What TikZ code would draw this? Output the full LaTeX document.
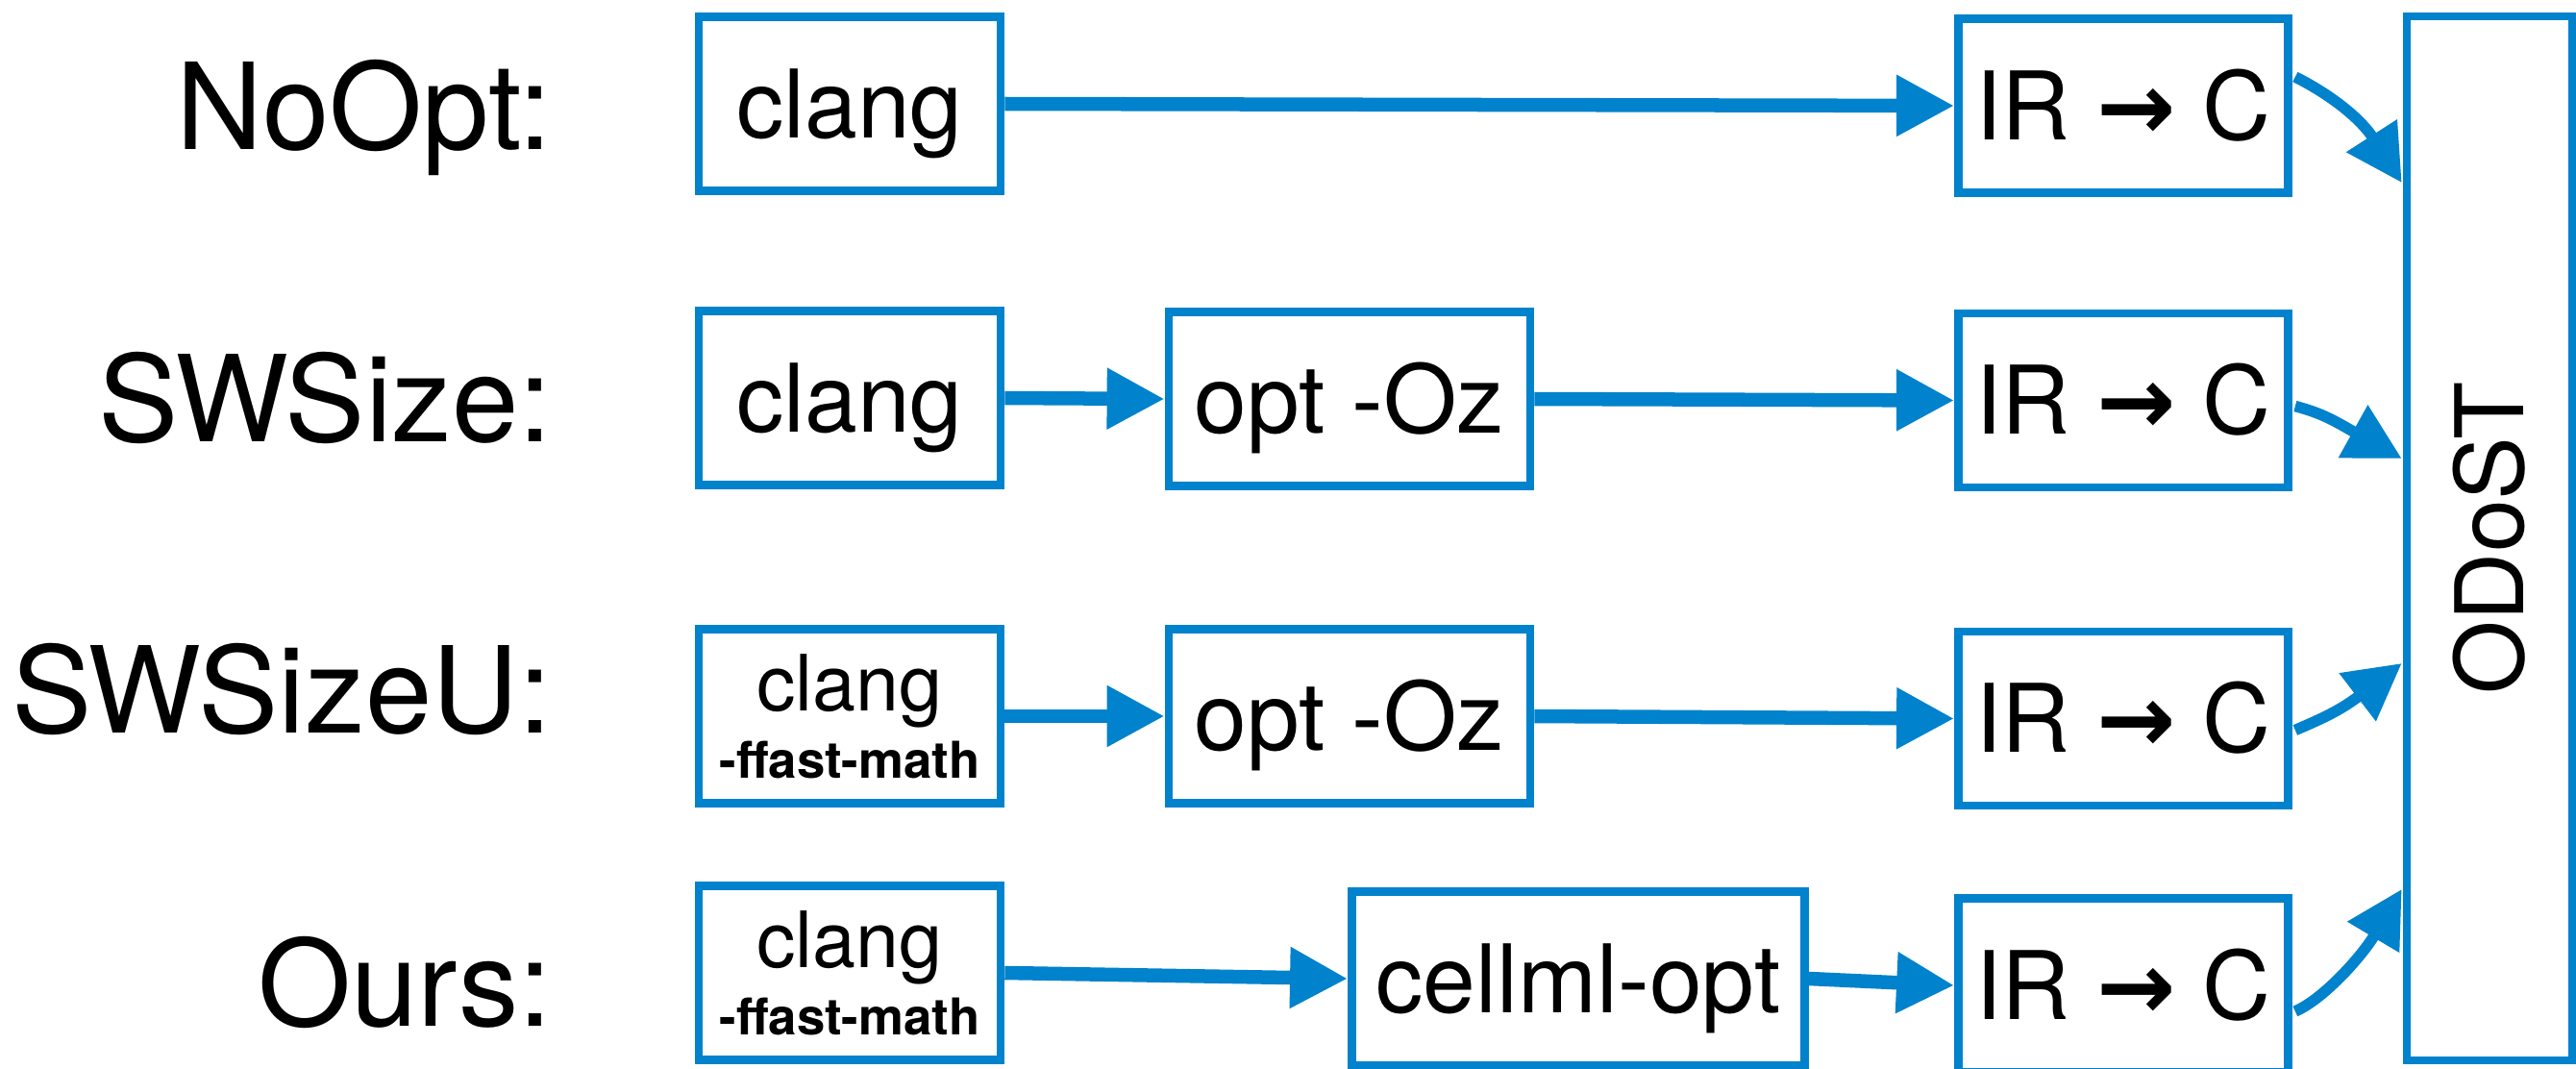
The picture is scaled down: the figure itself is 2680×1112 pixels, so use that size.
\documentclass[tikz,border=0pt]{standalone}
\usepackage{fontspec}
\setmainfont{TeX Gyre Heros}
\newfontfamily\arrowglyph{DejaVu Sans}
\usetikzlibrary{arrows.meta,calc}
\definecolor{flowblue}{HTML}{0082CC}
\newcommand{\irtoc}{IR {\arrowglyph\bfseries →} C}

\begin{document}
\begin{tikzpicture}[x=0.01cm,y=-0.01cm,
  stage/.style={draw=flowblue,line width=0.085cm,inner sep=0pt,minimum height=1.81cm,
    font=\fontsize{28}{30}\selectfont},
  oneline/.style={text height=20pt,text depth=0pt},
  twoline/.style={align=center,font=\fontsize{23}{20}\selectfont},
  rowlabel/.style={anchor=base east,inner sep=0pt,font=\fontsize{35.5}{40}\selectfont},
  flow/.style={draw=flowblue,line width=0.145cm,-{Triangle[length=0.6cm,width=0.6cm]}},
  merge/.style={draw=flowblue,line width=0.115cm,-{Triangle[length=0.58cm,width=0.6cm]}},
]
\useasboundingbox (0,0) rectangle (2680,1112);

% row labels
\node[rowlabel] (lab1) at (575,156) {NoOpt:};
\node[rowlabel] (lab2) at (575,459) {SWSize:};
\node[rowlabel] (lab3) at (575,762) {SWSizeU:};
\node[rowlabel] (lab4) at (575,1067) {Ours:};

% output stage shared by all pipelines
\node[stage,minimum width=1.72cm,minimum height=10.85cm] (od) at (2590,560) {\rotatebox{90}{ODoST}};

% NoOpt
\node[stage,oneline,minimum width=3.14cm] (clang1) at (884,108) {clang};
\node[stage,oneline,minimum width=3.43cm] (ir1) at (2209,110) {\irtoc};

% SWSize
\node[stage,oneline,minimum width=3.14cm] (clang2) at (884,414) {clang};
\node[stage,oneline,minimum width=3.76cm] (opt2) at (1404,415) {opt -Oz};
\node[stage,oneline,minimum width=3.43cm] (ir2) at (2209,416.5) {\irtoc};

% SWSizeU
\node[stage,twoline,minimum width=3.14cm] (clang3) at (884,745) {clang\\{\bfseries\fontsize{15}{20}\selectfont -ffast-math}};
\node[stage,oneline,minimum width=3.76cm] (opt3) at (1404,745) {opt -Oz};
\node[stage,oneline,minimum width=3.43cm] (ir3) at (2209,747.5) {\irtoc};

% Ours
\node[stage,twoline,minimum width=3.14cm] (clang4) at (884,1012) {clang\\{\bfseries\fontsize{15}{20}\selectfont -ffast-math}};
\node[stage,oneline,minimum width=4.71cm] (cellml) at (1642,1018) {cellml-opt};
\node[stage,oneline,minimum width=3.43cm] (ir4) at (2209,1025) {\irtoc};

% pipeline arrows
\draw[flow] (clang1.east) -- (ir1.west);
\draw[flow] (clang2.east) -- (opt2.west);
\draw[flow] (opt2.east) -- (ir2.west);
\draw[flow] (clang3.east) -- (opt3.west);
\draw[flow] (opt3.east) -- (ir3.west);
\draw[flow] (clang4.east) -- (cellml.west);
\draw[flow] (cellml.east) -- (ir4.west);

% curved arrows into ODoST
\draw[merge] ($(ir1.east)+(3,-30)$) .. controls ($(ir1.east)+(39,-12)$) and ($(od.west)+(-44,-437)$) .. ($(od.west)+(-1,-370)$);
\draw[merge] ($(ir2.east)+(3,6)$) .. controls ($(ir2.east)+(33,14)$) and ($(od.west)+(-71,-122)$) .. ($(od.west)+(-1,-83)$);
\draw[merge] ($(ir3.east)+(3,12)$) .. controls ($(ir3.east)+(31,0)$) and ($(od.west)+(-65,179)$) .. ($(od.west)+(-1,130)$);
\draw[merge] ($(ir4.east)+(3,27)$) .. controls ($(ir4.east)+(33,14)$) and ($(od.west)+(-42,434)$) .. ($(od.west)+(-1,365)$);
\end{tikzpicture}
\end{document}
